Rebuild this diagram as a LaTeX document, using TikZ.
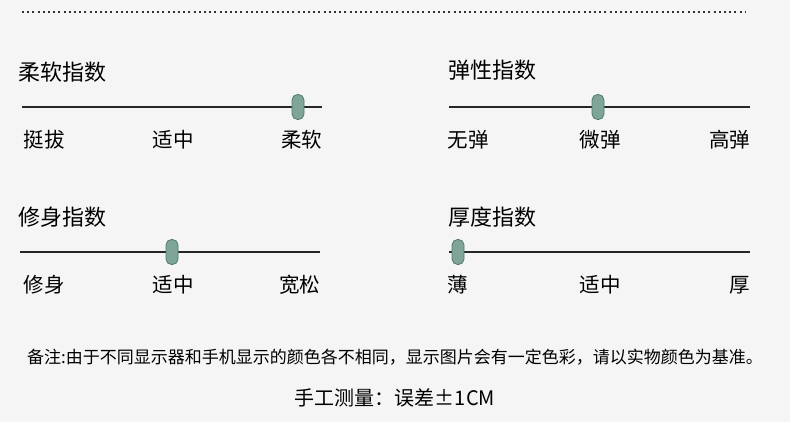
\documentclass[tikz,border=0pt]{standalone}
\usepackage{fontspec}
\setmainfont{Noto Sans CJK SC}
\definecolor{bgc}{HTML}{F5F5F5}
\definecolor{knobc}{HTML}{7FA598}
\definecolor{knobd}{HTML}{4F7A6C}
\tikzset{
  title/.style={anchor=west,font=\fontsize{22}{22}\selectfont},
  lbl/.style={font=\fontsize{20.5}{20.5}\selectfont},
  bar/.style={line width=1.8pt,black!85},
  knob/.style={draw=knobd,fill=knobc,line width=0.8pt,rounded corners=5.5pt,minimum width=12pt,minimum height=25pt,inner sep=0pt}
}
\begin{document}
\begin{tikzpicture}[x=1pt,y=-1pt]
  \fill[bgc] (0,0) rectangle (790,422);
  \useasboundingbox (0,0) rectangle (790,422);
  \coordinate (d1) at (22,12);
  \coordinate (d2) at (746,12);
  \draw[line width=2pt,dash pattern=on 2pt off 3.2pt,black!80] (d1) -- (d2);

  % softness
  \node[title] (t1) at (15,72) {柔软指数};
  \coordinate (a1) at (22,107);
  \coordinate (b1) at (322,107);
  \draw[bar] (a1) -- (b1);
  \node[knob] (k1) at (298,107) {};
  \node[lbl,anchor=west] (l11) at (20,140) {挺拔};
  \node[lbl] (l12) at (173,140) {适中};
  \node[lbl,anchor=east] (l13) at (326,140) {柔软};

  % elasticity
  \node[title] (t2) at (445,70) {弹性指数};
  \coordinate (a2) at (449,107);
  \coordinate (b2) at (750,107);
  \draw[bar] (a2) -- (b2);
  \node[knob] (k2) at (598,107) {};
  \node[lbl,anchor=west] (l21) at (444,140) {无弹};
  \node[lbl] (l22) at (600,140) {微弹};
  \node[lbl,anchor=east] (l23) at (754,140) {高弹};

  % fit
  \node[title] (t3) at (15,217) {修身指数};
  \coordinate (a3) at (20,252);
  \coordinate (b3) at (320,252);
  \draw[bar] (a3) -- (b3);
  \node[knob] (k3) at (172,252) {};
  \node[lbl,anchor=west] (l31) at (20,285) {修身};
  \node[lbl] (l32) at (173,285) {适中};
  \node[lbl,anchor=east] (l33) at (324,285) {宽松};

  % thickness
  \node[title] (t4) at (445,217) {厚度指数};
  \coordinate (a4) at (449,252);
  \coordinate (b4) at (750,252);
  \draw[bar] (a4) -- (b4);
  \node[knob] (k4) at (458,252) {};
  \node[lbl,anchor=west] (l41) at (444,285) {薄};
  \node[lbl] (l42) at (600,285) {适中};
  \node[lbl,anchor=east] (l43) at (754,285) {厚};

  \node[font=\fontsize{17}{17}\selectfont] (note) at (395,357) {备注:由于不同显示器和手机显示的颜色各不相同，显示图片会有一定色彩，请以实物颜色为基准。};
  \node[font=\fontsize{20}{20}\selectfont] (meas) at (395,398) {手工测量：误差±1CM};
\end{tikzpicture}
\end{document}
